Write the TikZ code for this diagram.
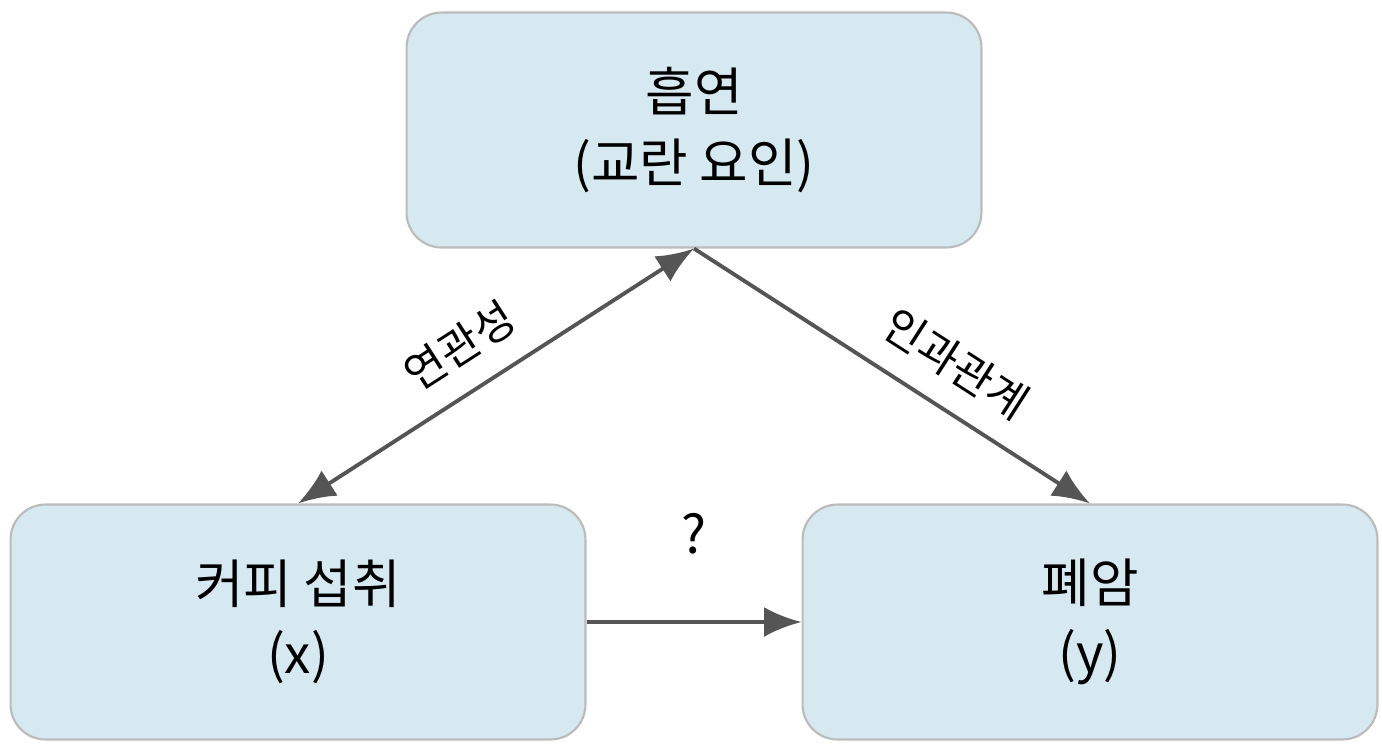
\documentclass[tikz,border=0pt]{standalone}
\usepackage{fontspec}
\setmainfont{Noto Sans CJK KR}
\usetikzlibrary{arrows.meta}
\definecolor{boxfill}{HTML}{D6E8F0}
\definecolor{boxline}{HTML}{BBBBBB}
\definecolor{arrowgray}{HTML}{555555}
\tikzset{
	factor/.style={draw=boxline, line width=1.2pt, fill=boxfill, rounded corners=0.7cm,
		minimum width=11.5cm, minimum height=4.7cm, align=center, font=\fontsize{30}{40}\selectfont},
	link/.style={draw=arrowgray, line width=2.2pt, -{Latex[length=0.75cm,width=0.6cm]}},
	tag/.style={font=\fontsize{25}{30}\selectfont, text=black}
}
\begin{document}
\begin{tikzpicture}[x=0.02cm,y=-0.02cm]
	\useasboundingbox (0,0) rectangle (1382,752);
	\node[factor] (smoke) at (694,130) {흡연\\(교란 요인)};
	\node[factor] (coffee) at (298,622) {커피 섭취\\(x)};
	\node[factor] (cancer) at (1090,622) {폐암\\(y)};
	\draw[link,{Latex[length=0.75cm,width=0.6cm]}-{Latex[length=0.75cm,width=0.6cm]}] (coffee.north) -- (smoke.south)
		node[tag, pos=0.47, above, sloped, yshift=0.35cm] (assoc) {연관성};
	\draw[link] (smoke.south) -- (cancer.north)
		node[tag, pos=0.6, above, sloped, yshift=0.35cm] (cause) {인과관계};
	\draw[link] (coffee.east) -- (cancer.west)
		node[tag, midway, above, yshift=1.2cm, font=\fontsize{30}{34}\selectfont] (ask) {?};
\end{tikzpicture}
\end{document}
